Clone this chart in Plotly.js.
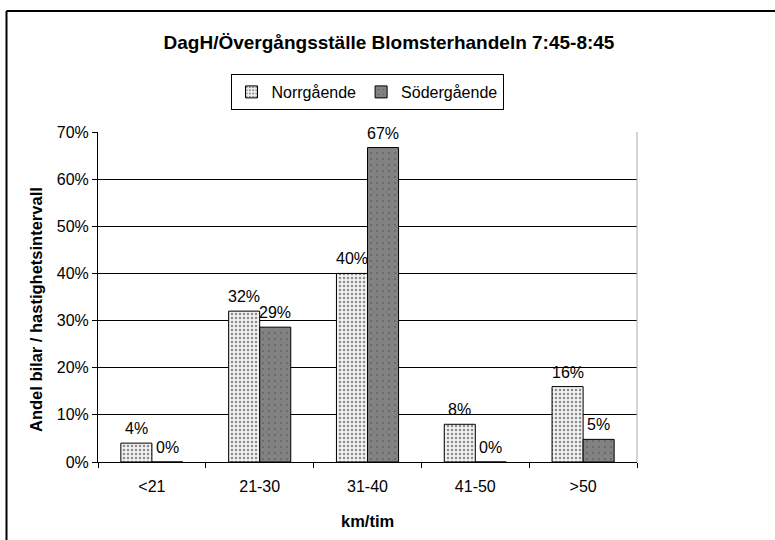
<!DOCTYPE html>
<html>
<head>
<meta charset="utf-8">
<script src="https://cdn.plot.ly/plotly-3.0.1.min.js"></script>
<style>html,body{margin:0;padding:0;background:#fff;}#chart{width:775px;height:540px;}</style>
</head>
<body>
<div id="chart"></div>
<script>
const categories = ['<21', '21-30', '31-40', '41-50', '>50'];
const norrgaende = [4, 32, 40, 8, 16];
const sodergaende = [0, 28.6, 66.7, 0, 4.8];
const seriesNames = ['Norrgående', 'Södergående'];
const yTicks = [0, 10, 20, 30, 40, 50, 60, 70];

const FONT = 'Liberation Sans, Arial, sans-serif';

const traces = [
  {
    type: 'bar', name: seriesNames[0], x: categories, y: norrgaende,
    marker: {
      color: '#ffffff',
      line: {color: '#000', width: 1},
      pattern: {shape: '.', fgcolor: '#8c8c8c', bgcolor: '#f2f2f2', size: 4, solidity: 0.3}
    },
    hoverinfo: 'skip'
  },
  {
    type: 'bar', name: seriesNames[1], x: categories, y: sodergaende,
    marker: {
      color: '#808080',
      line: {color: '#000', width: 1},
      pattern: {shape: '.', fgcolor: '#626262', bgcolor: '#828282', size: 6, solidity: 0.08}
    },
    hoverinfo: 'skip'
  }
];

const pxX = p => (p - 98) / 539;
const pxY = p => (462 - p) / 330;

const annotations = [];
[norrgaende, sodergaende].forEach((arr, si) => {
  arr.forEach((v, i) => {
    annotations.push({
      x: categories[i], y: v, xref: 'x', yref: 'y',
      text: Math.round(v) + '%', showarrow: false,
      xshift: si === 0 ? -15.5 : 15.5, yshift: 4, yanchor: 'bottom',
      font: {family: FONT, size: 16, color: '#000'}
    });
  });
});
annotations.push({
  xref: 'paper', yref: 'paper', x: pxX(36), y: pxY(310), xanchor: 'center', yanchor: 'middle',
  text: '<b>Andel bilar / hastighetsintervall</b>', textangle: -90, showarrow: false,
  font: {family: FONT, size: 16.5, color: '#000'}
});
annotations.push({
  xref: 'paper', yref: 'paper', x: pxX(367), y: pxY(521), xanchor: 'center', yanchor: 'middle',
  text: '<b>km/tim</b>', showarrow: false,
  font: {family: FONT, size: 16.5, color: '#000'}
});

const layout = {
  width: 775, height: 540,
  margin: {l: 98, r: 138, t: 132, b: 78},
  paper_bgcolor: '#fff', plot_bgcolor: '#fff',
  font: {family: FONT, size: 16, color: '#000'},
  title: {
    text: '<b>DagH/Övergångsställe Blomsterhandeln 7:45-8:45</b>',
    x: pxX(389), xref: 'paper', xanchor: 'center', y: 1 - 42 / 540, yref: 'container', yanchor: 'middle',
    font: {family: FONT, size: 19, color: '#000'}
  },
  barmode: 'group', bargap: 0.424, bargroupgap: 0,
  showlegend: true,
  legend: {
    orientation: 'h', x: pxX(367), xanchor: 'center', y: pxY(92), yanchor: 'middle',
    bordercolor: '#000', borderwidth: 1, bgcolor: '#fff',
    font: {family: FONT, size: 16, color: '#000'},
    itemwidth: 30, traceorder: 'normal'
  },
  xaxis: {
    type: 'category', tickson: 'boundaries', ticks: 'outside', ticklen: 5, tickcolor: '#000',
    showline: true, linecolor: '#000', linewidth: 1, showgrid: false,
    tickfont: {family: FONT, size: 16, color: '#000'},
    ticklabelstandoff: 10,
    fixedrange: true
  },
  yaxis: {
    range: [0, 70], tickvals: yTicks, ticktext: yTicks.map(t => t + '%'),
    ticks: 'outside', ticklen: 5, tickcolor: '#000',
    showline: true, linecolor: '#000', linewidth: 1,
    showgrid: true, gridcolor: '#000', gridwidth: 1, zeroline: false,
    tickfont: {family: FONT, size: 16, color: '#000'},
    fixedrange: true
  },
  annotations: annotations,
  shapes: [
    {type: 'line', xref: 'paper', yref: 'paper', x0: 1, x1: 1, y0: 0, y1: 1, line: {color: '#aaa', width: 1}},
    {type: 'line', xref: 'paper', yref: 'paper', x0: pxX(6.5), x1: pxX(6.5), y0: pxY(11), y1: pxY(560), line: {color: '#000', width: 2}},
    {type: 'line', xref: 'paper', yref: 'paper', x0: pxX(6.5), x1: pxX(800), y0: pxY(11), y1: pxY(11), line: {color: '#000', width: 2}}
  ]
};

Plotly.newPlot('chart', traces, layout, {displayModeBar: false, staticPlot: true});
</script>
</body>
</html>
